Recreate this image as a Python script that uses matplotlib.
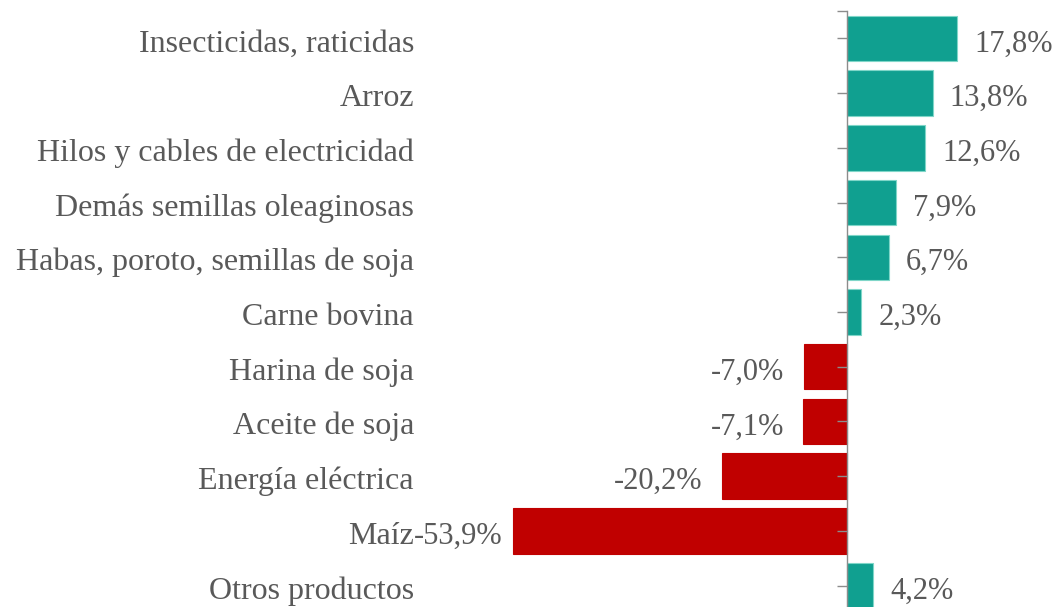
import matplotlib
matplotlib.use("Agg")
import matplotlib.pyplot as plt
from matplotlib.transforms import blended_transform_factory, offset_copy

categories = [
    "Insecticidas, raticidas",
    "Arroz",
    "Hilos y cables de electricidad",
    "Demás semillas oleaginosas",
    "Habas, poroto, semillas de soja",
    "Carne bovina",
    "Harina de soja",
    "Aceite de soja",
    "Energía eléctrica",
    "Maíz",
    "Otros productos",
]
values = [17.8, 13.8, 12.6, 7.9, 6.7, 2.3, -7.0, -7.1, -20.2, -53.9, 4.2]
value_labels = ["17,8%", "13,8%", "12,6%", "7,9%", "6,7%", "2,3%",
                "-7,0%", "-7,1%", "-20,2%", "-53,9%", "4,2%"]

POS = "#10A090"
POS_EDGE = "#7FD6C8"
NEG = "#C00000"
TXT = "#595959"
FONT = "Liberation Serif"
FS = 23
FS_VAL = 22

W, H = 1058, 607
fig = plt.figure(figsize=(W / 100, H / 100), dpi=100)
fig.patch.set_facecolor("white")

ax_left_px, ax_right_px = 414, 1058
zero_px = 847
scale = 6.2  # px per unit
ax_top_px, ax_bottom_px = 11, 613
ax = fig.add_axes([ax_left_px / W, 1 - ax_bottom_px / H,
                   (ax_right_px - ax_left_px) / W, (ax_bottom_px - ax_top_px) / H])
ax.set_xlim((ax_left_px - zero_px) / scale, (ax_right_px - zero_px) / scale)
ax.set_ylim(len(categories) - 0.5, -0.5)
ax.set_axisbelow(False)

y = list(range(len(categories)))
colors = [POS if v >= 0 else NEG for v in values]
edges = [POS_EDGE if v >= 0 else NEG for v in values]
ax.barh(y, values, height=0.83, color=colors, edgecolor=edges, linewidth=0.8, zorder=2)

for s in ["top", "right", "bottom"]:
    ax.spines[s].set_visible(False)
ax.spines["left"].set_position(("data", 0))
ax.spines["left"].set_color("#8C8C8C")
ax.spines["left"].set_linewidth(1.0)
ax.spines["left"].set_zorder(5)
ax.set_xticks([])
ax.set_yticks([-0.5] + y)
ax.set_yticklabels([])
ax.tick_params(axis="y", direction="out", length=7, width=1.0, color="#8C8C8C")
ax.yaxis.set_zorder(5)

BASE_OFF = -13  # baseline offset in pixels relative to bar centre

# category labels on the left
trans = offset_copy(blended_transform_factory(ax.transAxes, ax.transData),
                    fig=fig, x=0, y=BASE_OFF, units="dots")
for yi, c in zip(y, categories):
    ax.text(0, yi, c, transform=trans, ha="right", va="baseline",
            fontsize=FS, color=TXT, family=FONT)

# value labels
for yi, v, lab in zip(y, values, value_labels):
    if v >= 0:
        tr = offset_copy(ax.transData, fig=fig, x=17, y=BASE_OFF, units="dots")
        ax.text(v, yi, lab, transform=tr, ha="left", va="baseline",
                fontsize=FS_VAL, color=TXT, family=FONT)
    else:
        pad = 10 if v < -40 else 19
        tr = offset_copy(ax.transData, fig=fig, x=-pad, y=BASE_OFF, units="dots")
        ax.text(v, yi, lab, transform=tr, ha="right", va="baseline",
                fontsize=FS_VAL, color=TXT, family=FONT)

fig.savefig("out.png", dpi=100, facecolor="white")
